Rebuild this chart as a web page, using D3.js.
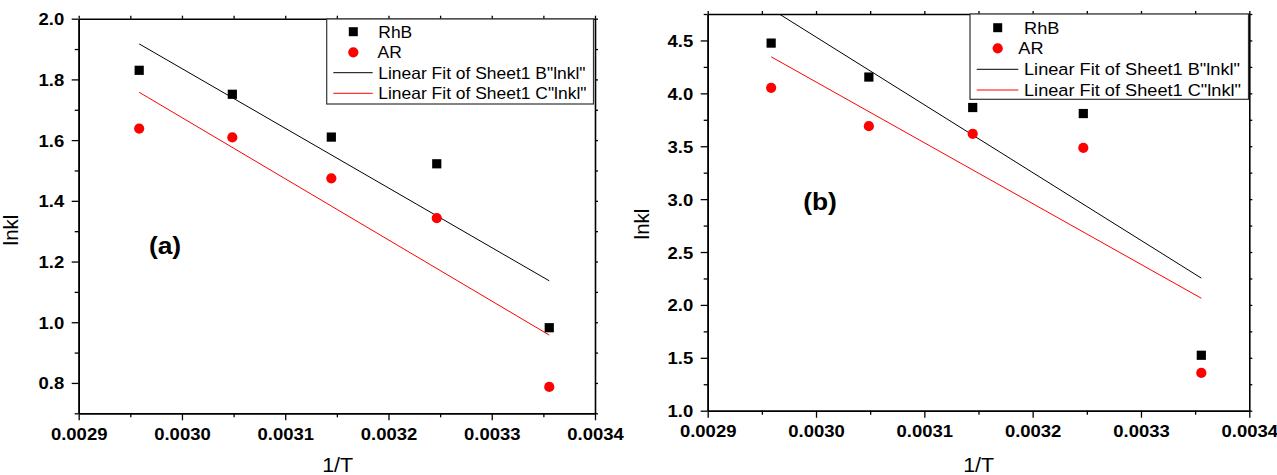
<!DOCTYPE html>
<html>
<head>
<meta charset="utf-8">
<script src="https://cdn.jsdelivr.net/npm/d3@7"></script>
<style>
  body { margin: 0; background: #fff; }
  svg { display: block; }
  text { font-family: Arial, "Liberation Sans", sans-serif; fill: #000; }
</style>
</head>
<body>
<svg id="chart" width="1277" height="475"></svg>
<script>
// 1/T for T = 338, 328, 318, 308, 298 K
const invT = [1 / 338, 1 / 328, 1 / 318, 1 / 308, 1 / 298];

// panel (a): ln k values
const rhbA = [1.830, 1.751, 1.610, 1.522, 0.982];
const arA  = [1.638, 1.609, 1.474, 1.343, 0.787];

// panel (b): ln k values
const rhbB = [4.475, 4.154, 3.866, 3.809, 1.524];
const arB  = [4.052, 3.690, 3.617, 3.485, 1.357];

// tick labels
const xTicks  = [0.0029, 0.0030, 0.0031, 0.0032, 0.0033, 0.0034];
const yTicksA = [0.8, 1.0, 1.2, 1.4, 1.6, 1.8, 2.0];
const yTicksB = [1.0, 1.5, 2.0, 2.5, 3.0, 3.5, 4.0, 4.5];

const seriesNames = ["RhB", "AR"];
const fitNames = ['Linear Fit of Sheet1 B"lnkl"', 'Linear Fit of Sheet1 C"lnkl"'];
const panelTags = ["(a)", "(b)"];

const svg = d3.select("#chart");
const SX = 1.1; // horizontal text stretch

function stretchText(sel, k) {
  sel.each(function () {
    const t = d3.select(this);
    const x = +t.attr("x") || 0;
    t.attr("x", x / k).attr("transform", `scale(${k},1)`);
  });
}

function addText(g, x, y, str, opts) {
  const k = opts.k || SX;
  return g.append("text")
    .attr("transform", `translate(${x},${y}) scale(${k},1)` + (opts.rotate ? ` rotate(${opts.rotate})` : ""))
    .attr("text-anchor", opts.anchor || "start")
    .attr("dy", opts.dy || null)
    .style("font-size", opts.size + "px")
    .style("font-weight", opts.bold ? "bold" : "normal")
    .text(str);
}

function linFit(xs, ys) {
  const mx = d3.mean(xs), my = d3.mean(ys);
  let sxy = 0, sxx = 0;
  xs.forEach((x, i) => { sxy += (x - mx) * (ys[i] - my); sxx += (x - mx) * (x - mx); });
  const b = sxy / sxx;
  return x => my + b * (x - mx);
}

const panels = [
  {
    id: "a", left: 78.7, right: 595, top: 18.7, bottom: 413.3,
    yDomain: [0.7, 2.0], yTicks: yTicksA, yMinor: d3.range(0.7, 2.0, 0.2).map(v => +v.toFixed(2)),
    rhb: rhbA, ar: arA, fmtY: d3.format(".1f"),
    legend: { x0: 326.7, x1: 593.5, y0: 19, y1: 104, rows: [31.7, 52.3, 72.7, 93.3],
              sym: 353.3, l0: 333.3, l1: 372.7, tx: [378.3, 377.5, 378.3, 378.3], size: 16.3, k: 1.07 },
    tag: { x: 165, y: 254 },
    xTitle: { x: 337.7, y: 471.5 }, yTitle: { x: 18, y: 230 }
  },
  {
    id: "b", left: 707.7, right: 1249.3, top: 14, bottom: 410.7,
    yDomain: [1.0, 4.75], yTicks: yTicksB, yMinor: [1.25, 1.75, 2.25, 2.75, 3.25, 3.75, 4.25, 4.75],
    rhb: rhbB, ar: arB, fmtY: d3.format(".1f"),
    legend: { x0: 970, x1: 1248.5, y0: 14, y1: 99.3, rows: [27.7, 48.3, 69.3, 90],
              sym: 997.7, l0: 976.7, l1: 1018.3, tx: [1024, 1018.3, 1024, 1024], size: 17, k: 1.07 },
    tag: { x: 820, y: 210 },
    xTitle: { x: 978.7, y: 471.5 }, yTitle: { x: 649, y: 224 }
  }
];

panels.forEach((p, pi) => {
  const x = d3.scaleLinear().domain([0.0029, 0.0034]).range([p.left, p.right]);
  const y = d3.scaleLinear().domain(p.yDomain).range([p.bottom, p.top]);
  const g = svg.append("g");

  const clipId = "clip-" + p.id;
  svg.append("defs").append("clipPath").attr("id", clipId)
    .append("rect").attr("x", p.left).attr("y", p.top)
    .attr("width", p.right - p.left).attr("height", p.bottom - p.top);

  const plot = g.append("g").attr("clip-path", `url(#${clipId})`);

  // linear fits
  const xMin = d3.min(invT), xMax = d3.max(invT);
  [[p.rhb, "#000"], [p.ar, "#ff0000"]].forEach(([ys, col]) => {
    const f = linFit(invT, ys);
    plot.append("line")
      .attr("x1", x(xMin)).attr("y1", y(f(xMin)))
      .attr("x2", x(xMax)).attr("y2", y(f(xMax)))
      .attr("stroke", col).attr("stroke-width", 1);
  });

  // markers
  const sq = 9.2;
  plot.selectAll("rect.rhb").data(p.rhb).join("rect")
    .attr("class", "rhb")
    .attr("x", (d, i) => x(invT[i]) - sq / 2).attr("y", d => y(d) - sq / 2)
    .attr("width", sq).attr("height", sq).attr("fill", "#000");
  plot.selectAll("circle.ar").data(p.ar).join("circle")
    .attr("class", "ar")
    .attr("cx", (d, i) => x(invT[i])).attr("cy", d => y(d))
    .attr("r", 5.1).attr("fill", "#ff0000");

  // axes
  const xMinor = xTicks.slice(0, -1).map(v => v + 0.00005);
  const axStyle = a => {
    a.selectAll("path.domain").attr("stroke", "#000").attr("stroke-width", 1.6);
    a.selectAll("line").attr("stroke", "#000").attr("stroke-width", 1.3);
  };
  const tickFont = sel => sel.style("font-size", "16.8px").style("font-weight", "bold")
    .style("font-family", "Arial, 'Liberation Sans', sans-serif");

  // bottom
  g.append("g").attr("transform", `translate(0,${p.bottom})`)
    .call(d3.axisBottom(x).tickValues(xMinor).tickSize(4).tickFormat("").tickSizeOuter(0)).call(axStyle);
  const bx = g.append("g").attr("transform", `translate(0,${p.bottom})`)
    .call(d3.axisBottom(x).tickValues(xTicks).tickSize(7).tickFormat(d3.format(".4f")).tickSizeOuter(0))
    .call(axStyle);
  bx.selectAll("text").attr("y", pi === 0 ? 26.9 : 26.2).attr("dy", "0").call(tickFont);
  stretchText(bx.selectAll("text"), SX);

  // left
  g.append("g").attr("transform", `translate(${p.left},0)`)
    .call(d3.axisLeft(y).tickValues(p.yMinor).tickSize(4).tickFormat("").tickSizeOuter(0)).call(axStyle);
  const ly = g.append("g").attr("transform", `translate(${p.left},0)`)
    .call(d3.axisLeft(y).tickValues(p.yTicks).tickSize(7).tickFormat(p.fmtY).tickSizeOuter(0))
    .call(axStyle);
  ly.selectAll("text").attr("x", -14.5).attr("dy", "0.36em").call(tickFont);
  stretchText(ly.selectAll("text"), SX);

  // top & right frame with small outward ticks
  const xAll = xTicks.concat(xMinor);
  g.append("g").attr("transform", `translate(0,${p.top})`)
    .call(d3.axisTop(x).tickValues(xAll).tickSize(3).tickFormat("").tickSizeOuter(0)).call(axStyle);
  g.append("g").attr("transform", `translate(${p.right},0)`)
    .call(d3.axisRight(y).tickValues(p.yTicks.concat(p.yMinor)).tickSize(3).tickFormat("").tickSizeOuter(0)).call(axStyle);

  // legend
  const L = p.legend;
  const lg = g.append("g");
  lg.append("rect").attr("x", L.x0).attr("y", L.y0)
    .attr("width", L.x1 - L.x0).attr("height", L.y1 - L.y0)
    .attr("fill", "#fff").attr("stroke", "#333").attr("stroke-width", 1.2);
  lg.append("rect").attr("x", L.sym - 4.5).attr("y", L.rows[0] - 4.5)
    .attr("width", 9).attr("height", 9).attr("fill", "#000");
  lg.append("circle").attr("cx", L.sym).attr("cy", L.rows[1]).attr("r", 5.1).attr("fill", "#ff0000");
  lg.append("line").attr("x1", L.l0).attr("x2", L.l1).attr("y1", L.rows[2]).attr("y2", L.rows[2])
    .attr("stroke", "#000").attr("stroke-width", 1);
  lg.append("line").attr("x1", L.l0).attr("x2", L.l1).attr("y1", L.rows[3]).attr("y2", L.rows[3])
    .attr("stroke", "#ff0000").attr("stroke-width", 1);
  const labels = seriesNames.concat(fitNames);
  labels.forEach((s, i) => addText(lg, L.tx[i], L.rows[i], s, { size: L.size, dy: "0.36em", k: L.k }));

  // panel tag
  addText(g, p.tag.x, p.tag.y, panelTags[pi], { size: 24, bold: true, anchor: "middle" });

  // axis titles
  addText(g, p.xTitle.x, p.xTitle.y, "1/T", { size: 20.5, anchor: "middle", k: 1.05 });
  addText(g, p.yTitle.x, p.yTitle.y, "lnkl", { size: 20.5, anchor: "middle", rotate: -90, k: 1 });
});
</script>
</body>
</html>
